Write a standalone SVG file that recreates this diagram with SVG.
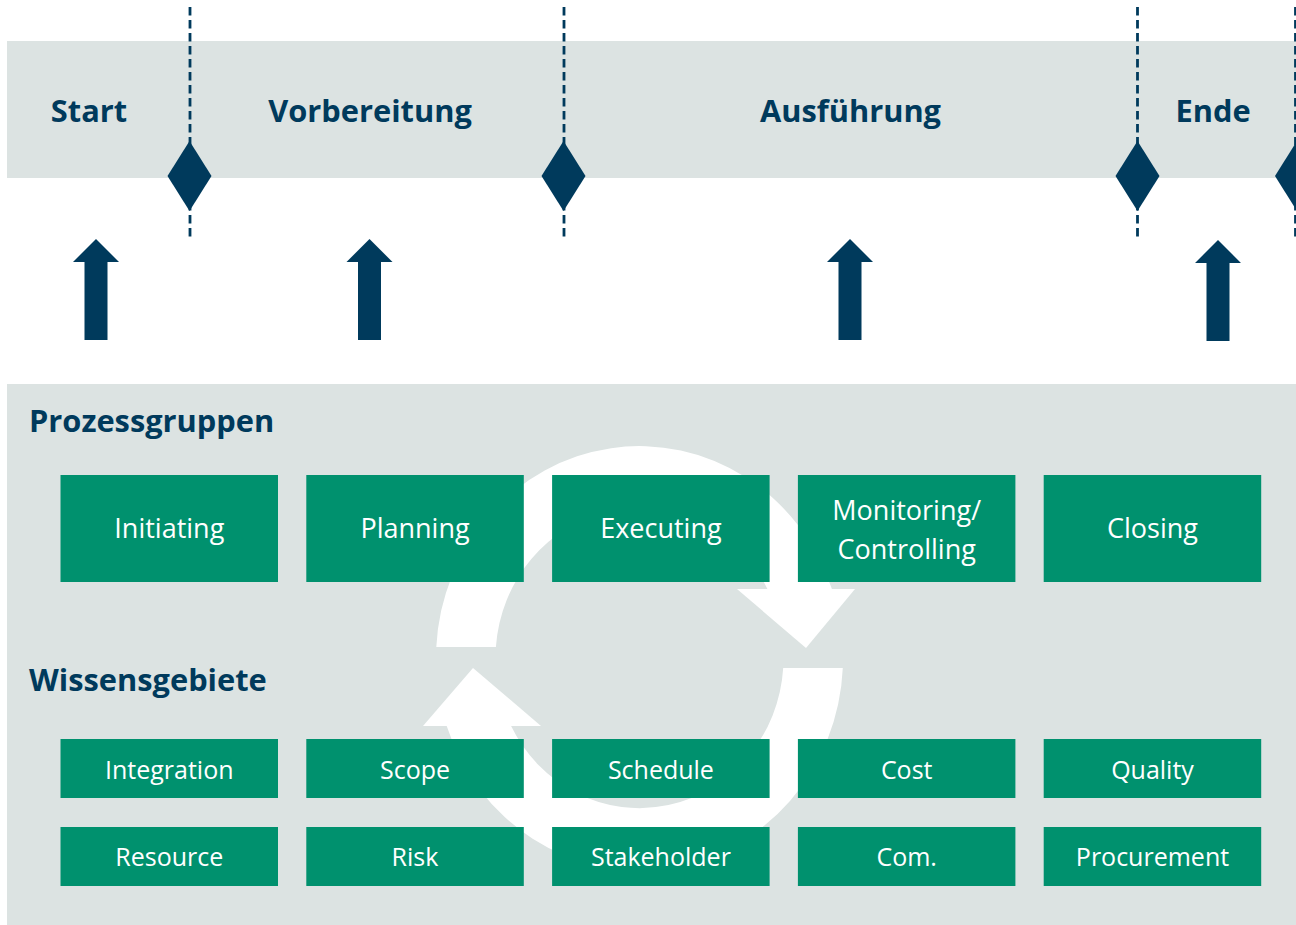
<svg xmlns="http://www.w3.org/2000/svg" width="1296" height="925" viewBox="0 0 1296 925">
  <style>
    .band { fill: #dce3e2; }
    .navy { fill: #003a5c; }
    .dash { stroke: #003a5c; stroke-width: 2.8; stroke-dasharray: 8.5 4.5; fill: none; }
    .hdr { font-family: "Open Sans", "Liberation Sans", sans-serif; font-weight: bold; font-size: 30.8px; fill: #003a5c; }
    .box { fill: #00916e; }
    .ptxt { font-family: "Open Sans", "Liberation Sans", sans-serif; font-size: 27px; fill: #ffffff; text-anchor: middle; }
    .ktxt { font-family: "Open Sans", "Liberation Sans", sans-serif; font-size: 25px; fill: #ffffff; text-anchor: middle; }
    .ring { fill: #ffffff; }
  </style>
  <rect width="1296" height="925" fill="#ffffff"/>

  <!-- Phase band -->
  <g id="phase-band">
    <rect class="band" x="7" y="41" width="1289" height="137"/>
    <text class="hdr" x="89" y="122" text-anchor="middle">Start</text>
    <text class="hdr" x="370" y="122" text-anchor="middle">Vorbereitung</text>
    <text class="hdr" x="850.5" y="122" text-anchor="middle">Ausführung</text>
    <text class="hdr" x="1213" y="122" text-anchor="middle">Ende</text>
  </g>

  <!-- Milestones -->
  <g id="milestones">
    <line class="dash" x1="190" y1="7" x2="190" y2="241"/>
    <line class="dash" x1="564" y1="7" x2="564" y2="241"/>
    <line class="dash" x1="1137.5" y1="7" x2="1137.5" y2="241"/>
    <line class="dash" x1="1295.5" y1="7" x2="1295.5" y2="241"/>
    <polygon class="navy" points="189.5,141 211.5,176 189.5,211 167.5,176"/>
    <polygon class="navy" points="563.5,141 585.5,176 563.5,211 541.5,176"/>
    <polygon class="navy" points="1137.5,141 1159.5,176 1137.5,211 1115.5,176"/>
    <polygon class="navy" points="1297,141 1319,176 1297,211 1275,176"/>
  </g>

  <!-- Up arrows -->
  <g id="up-arrows" class="navy">
    <polygon points="96,239 119,262 107.5,262 107.5,340 84.5,340 84.5,262 73,262"/>
    <polygon points="369.5,239 392.5,262 381,262 381,340 358,340 358,262 346.5,262"/>
    <polygon points="850,239 873,262 861.5,262 861.5,340 838.5,340 838.5,262 827,262"/>
    <polygon points="1218,240 1241,263 1229.5,263 1229.5,341 1206.5,341 1206.5,263 1195,263"/>
  </g>

  <!-- Lower panel -->
  <g id="lower-panel">
    <rect class="band" x="7" y="384" width="1289" height="541"/>
    <text class="hdr" x="29" y="432">Prozessgruppen</text>
    <text class="hdr" x="29" y="691">Wissensgebiete</text>
  </g>

  <!-- Circular arrows -->
  <g id="cycle" class="ring">
    <path d="M436.3,647 A203.5,212 0 0 1 831.9,589 L767.4,589 A144,150 0 0 0 495.9,647 Z"/>
    <polygon points="737,589 855,589 806,648"/>
    <path d="M842.8,668 A203.5,212 0 0 1 446.7,726 L511.1,726 A144,150 0 0 0 783.2,668 Z"/>
    <polygon points="423,726 541,726 473,668"/>
  </g>

  <!-- Process groups -->
  <g id="initiating"><rect class="box" x="60.5" y="475" width="217.5" height="107"/><text class="ptxt" x="169.3" y="538">Initiating</text></g>
  <g id="planning"><rect class="box" x="306.3" y="475" width="217.5" height="107"/><text class="ptxt" x="415" y="538">Planning</text></g>
  <g id="executing"><rect class="box" x="552.1" y="475" width="217.5" height="107"/><text class="ptxt" x="660.9" y="538">Executing</text></g>
  <g id="monitoring"><rect class="box" x="797.9" y="475" width="217.5" height="107"/><text class="ptxt" x="906.7" y="520">Monitoring/</text><text class="ptxt" x="906.7" y="559">Controlling</text></g>
  <g id="closing"><rect class="box" x="1043.7" y="475" width="217.5" height="107"/><text class="ptxt" x="1152.5" y="538">Closing</text></g>

  <!-- Knowledge areas -->
  <g id="integration"><rect class="box" x="60.5" y="739" width="217.5" height="59"/><text class="ktxt" x="169.3" y="779">Integration</text></g>
  <g id="scope"><rect class="box" x="306.3" y="739" width="217.5" height="59"/><text class="ktxt" x="415" y="779">Scope</text></g>
  <g id="schedule"><rect class="box" x="552.1" y="739" width="217.5" height="59"/><text class="ktxt" x="660.9" y="779">Schedule</text></g>
  <g id="cost"><rect class="box" x="797.9" y="739" width="217.5" height="59"/><text class="ktxt" x="906.7" y="779">Cost</text></g>
  <g id="quality"><rect class="box" x="1043.7" y="739" width="217.5" height="59"/><text class="ktxt" x="1152.5" y="779">Quality</text></g>
  <g id="resource"><rect class="box" x="60.5" y="827" width="217.5" height="59"/><text class="ktxt" x="169.3" y="866">Resource</text></g>
  <g id="risk"><rect class="box" x="306.3" y="827" width="217.5" height="59"/><text class="ktxt" x="415" y="866">Risk</text></g>
  <g id="stakeholder"><rect class="box" x="552.1" y="827" width="217.5" height="59"/><text class="ktxt" x="660.9" y="866">Stakeholder</text></g>
  <g id="com"><rect class="box" x="797.9" y="827" width="217.5" height="59"/><text class="ktxt" x="906.7" y="866">Com.</text></g>
  <g id="procurement"><rect class="box" x="1043.7" y="827" width="217.5" height="59"/><text class="ktxt" x="1152.5" y="866">Procurement</text></g>
</svg>
